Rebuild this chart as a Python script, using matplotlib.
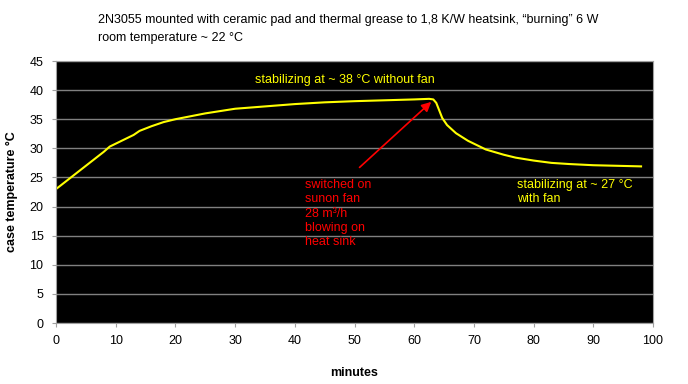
import matplotlib
matplotlib.use('Agg')
import matplotlib.pyplot as plt

plt.rcParams['font.family'] = ['Liberation Sans', 'DejaVu Sans']

# case temperature readings
minutes = [0, 2, 4, 6, 8, 9, 11, 13, 14, 16, 18, 20, 25, 30, 35, 40, 45, 50, 55, 60,
           62.5, 63.2, 63.7, 64.2, 64.7, 65.5, 67, 69, 72, 75, 77, 80, 83, 86, 90, 94, 98]
temp = [23.0, 24.6, 26.2, 27.8, 29.4, 30.3, 31.3, 32.3, 33.0, 33.8, 34.5, 35.0, 36.0, 36.8,
        37.2, 37.6, 37.9, 38.1, 38.25, 38.4,
        38.5, 38.4, 37.8, 36.5, 35.2, 34.0, 32.6, 31.3, 29.8, 28.9, 28.4, 27.9, 27.5, 27.3,
        27.1, 27.0, 26.9]

title_lines = ['2N3055 mounted with ceramic pad and thermal grease to 1,8 K/W heatsink, \u201cburning\u201d 6 W',
               'room temperature ~ 22 \u00b0C']
fan_note = 'switched on\nsunon fan\n28 m\u00b3/h\nblowing on\nheat sink'

fig = plt.figure(figsize=(6.88, 3.84), dpi=100)
ax = fig.add_axes([56/688, 1-323/384, (653-56)/688, (323-61)/384])
ax.set_facecolor('black')

ax.plot(minutes, temp, color='#ffff00', linewidth=1.5)

ax.set_xlim(0, 100)
ax.set_ylim(0, 45)
ax.set_xticks(range(0, 101, 10))
ax.set_yticks(range(0, 46, 5))
ax.grid(axis='y', color='#808080', linewidth=1)
ax.set_axisbelow(True)
for s in ax.spines.values():
    s.set_color('#a0a0a0')
ax.tick_params(labelsize=9, colors='black', length=3, color='#a0a0a0', pad=6)

ax.set_xlabel('minutes', fontsize=9, fontweight='bold', labelpad=14)
ax.set_ylabel('case temperature \u00b0C', fontsize=9, fontweight='bold', labelpad=8)

fig.text(98/688, 1-20/384, title_lines[0], fontsize=9, va='center')
fig.text(98/688, 1-38/384, title_lines[1], fontsize=9, va='center')

ax.text(33.3, 41.7, 'stabilizing at ~ 38 \u00b0C without fan', color='#ffff00', fontsize=9, va='center')
ax.text(41.7, 24.7, fan_note, color='red', fontsize=9, va='top', linespacing=1.25)
ax.text(77.2, 24.7, 'stabilizing at ~ 27 \u00b0C\nwith fan', color='#ffff00', fontsize=9, va='top',
        linespacing=1.25)
ax.annotate('', xy=(63.2, 38.3), xytext=(50.5, 26.4),
            arrowprops=dict(arrowstyle='-|>', color='red', lw=1.2, mutation_scale=14))

plt.savefig('out.png', dpi=100)
